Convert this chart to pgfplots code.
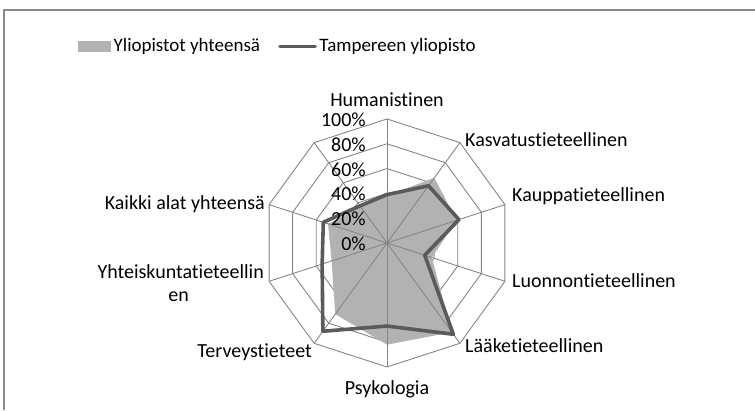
\documentclass[border=0pt]{standalone}
\usepackage{pgfplots}
\pgfplotsset{compat=1.18}
\usepackage{pgfplotstable}
\usepackage{fontspec}
\setmainfont{Carlito}[Ligatures=NoCommon]

\definecolor{areagray}{RGB}{178,178,178}
\definecolor{linegray}{RGB}{90,90,90}
\definecolor{gridgray}{RGB}{134,134,134}
\definecolor{framegray}{RGB}{140,140,140}

% angle (deg, clockwise from top), Yliopistot yhteensa, Tampereen yliopisto
\pgfplotstableread{
a    yo   ta
0    38   39
36   65   57
72   59   61
108  38   32
144  89   91
180  82   67
216  71   88
252  47   55
288  50   54
324  36   37
}\radardata

\begin{document}
\fontsize{20pt}{24pt}\selectfont
\begin{tikzpicture}
\path[use as bounding box] (0,0) rectangle (755pt,410pt);
\begin{axis}[
  at={(0,0)}, anchor=south west,
  x=1.24pt, y=1.24pt,
  xmin=-312.1, xmax=296.8, ymin=-134.7, ymax=196,
  hide axis, clip=false,
  legend columns=2,
  legend style={draw=none, fill=none, inner sep=0pt,
    at={(rel axis cs:0.1033,0.8866)}, anchor=west,
    font=\fontsize{19pt}{23pt}\selectfont,
    nodes={inner ysep=1.5pt, inner xsep=2.5pt},
    /tikz/every even column/.append style={column sep=0pt}},
]
% rings
\pgfplotsinvokeforeach{20,40,60,80,100}{
  \draw[gridgray, line width=0.9pt] (axis cs:0,#1)
    \foreach \a in {36,72,...,324} { -- (axis cs:{#1*sin(\a)},{#1*cos(\a)}) } -- cycle;
}
\addplot[fill=areagray, draw=none, area legend,
  legend image code/.code={\fill[areagray] (0pt,-5.5pt) rectangle (33pt,5.5pt);}]
  table[x expr={\thisrow{yo}*sin(\thisrow{a})}, y expr={\thisrow{yo}*cos(\thisrow{a})}] {\radardata} -- cycle;
\addlegendentry{\makebox[162pt][l]{Yliopistot yhteensä}}
% spokes
\pgfplotsinvokeforeach{0,36,72,108,144,180,216,252,288,324}{
  \draw[gridgray, line width=0.9pt] (axis cs:0,0) -- (axis cs:{100*sin(#1)},{100*cos(#1)});
}
\addplot[linegray, line width=3.6pt, line join=round,
  legend image code/.code={\draw[linegray, line width=3.6pt, line cap=round] (1.8pt,0pt) -- (37pt,0pt);}]
  table[x expr={\thisrow{ta}*sin(\thisrow{a})}, y expr={\thisrow{ta}*cos(\thisrow{a})}] {\radardata} -- cycle;
\addlegendentry{Tampereen yliopisto}
% value labels
\pgfplotsinvokeforeach{0,20,40,60,80,100}{
  \node[anchor=base east, inner sep=0pt] at (axis cs:-17,{#1-6}) {#1\%};
}
% category labels
\node[anchor=base, inner sep=0pt] at (axis cs:0,109.7) {Humanistinen};
\node[anchor=base west, inner sep=0pt] at (axis cs:62.9,77.4) {Kasvatustieteellinen};
\node[anchor=base west, inner sep=0pt] at (axis cs:100.8,33.1) {Kauppatieteellinen};
\node[anchor=base west, inner sep=0pt] at (axis cs:100.8,-36.3) {Luonnontieteellinen};
\node[anchor=base west, inner sep=0pt] at (axis cs:62.9,-88.7) {Lääketieteellinen};
\node[anchor=base, inner sep=0pt] at (axis cs:0,-121.8) {Psykologia};
\node[anchor=base east, inner sep=0pt] at (axis cs:-60.5,-92.7) {Terveystieteet};
\node[anchor=base east, inner sep=0pt] at (axis cs:-99.2,-28.5) {Yhteiskuntatieteellin};
\node[anchor=base, inner sep=0pt] at (axis cs:-168,-47.6) {en};
\node[anchor=base east, inner sep=0pt] at (axis cs:-98.4,26.6) {Kaikki alat yhteensä};
% chart frame
\draw[framegray, line width=1.3pt] (axis cs:-308.9,-134.7) |- (axis cs:296.8,187.9);
\end{axis}
\end{tikzpicture}
\end{document}
